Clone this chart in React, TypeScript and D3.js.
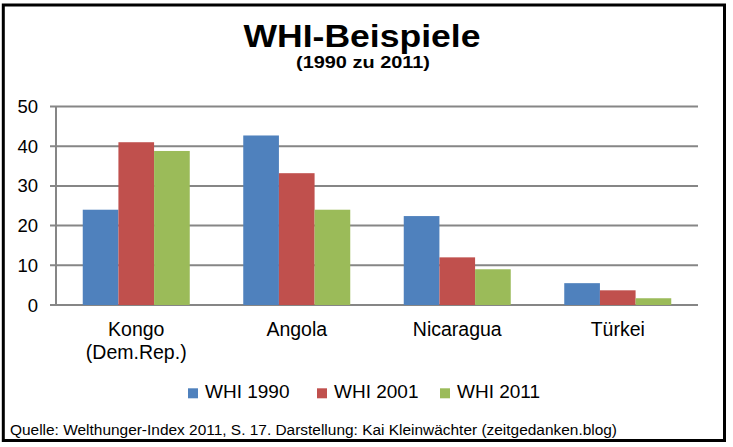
import React from "react";
import * as d3 from "d3";

const categories = ["Kongo\n(Dem.Rep.)", "Angola", "Nicaragua", "Türkei"];
const seriesNames = ["WHI 1990", "WHI 2001", "WHI 2011"];
const whi1990 = [24.0, 42.7, 22.4, 5.5];
const whi2001 = [41.0, 33.2, 12.0, 3.7];
const whi2011 = [38.8, 24.0, 9.0, 1.7];
const yTicks = [0, 10, 20, 30, 40, 50];
const colors = ["#4F81BD", "#C0504D", "#9BBB59"];

const W = 733;
const H = 447;
const FONT = "Liberation Sans, Arial, Helvetica, sans-serif";

export default function App() {
  const series = [whi1990, whi2001, whi2011];
  const left = 56, right = 698, top = 106.5, bottom = 305;
  const x0 = d3.scaleBand<string>().domain(categories).range([left, right]).paddingInner(1 / 3).paddingOuter(1 / 6);
  const x1 = d3.scaleBand<string>().domain(seriesNames).range([0, x0.bandwidth()]);
  const y = d3.scaleLinear().domain([0, 50]).range([bottom, top]);
  const legendX = [188, 317, 440];

  return (
    <svg width={W} height={H} style={{ position: "absolute", left: 0, top: 0, display: "block", fontFamily: FONT }}>
      <rect x={0} y={0} width={W} height={H} fill="#fff" />
      <rect x={3.3} y={5} width={721.2} height={435.5} fill="none" stroke="#000" strokeWidth={3} />
      <text x={362} y={46.5} textAnchor="middle" fontSize={31.5} fontWeight="bold" textLength={237} lengthAdjust="spacingAndGlyphs" style={{ fontFamily: FONT }}>WHI-Beispiele</text>
      <text x={363} y={67.5} textAnchor="middle" fontSize={16.5} fontWeight="bold" textLength={134} lengthAdjust="spacingAndGlyphs" style={{ fontFamily: FONT }}>(1990 zu 2011)</text>

      {yTicks.map((t) => (
        <g key={t}>
          <line x1={50} x2={right} y1={y(t)} y2={y(t)} stroke="#868686" strokeWidth={2} />
          <text x={38} y={y(t) + 6.5} textAnchor="end" fontSize={18.5} style={{ fontFamily: FONT }}>{t}</text>
        </g>
      ))}
      <line x1={left} x2={left} y1={top} y2={bottom} stroke="#868686" strokeWidth={2} />

      {categories.map((c, i) => (
        <g key={c}>
          {series.map((s, j) => (
            <rect key={j} x={(x0(c) as number) + (x1(seriesNames[j]) as number)} y={y(s[i])} width={x1.bandwidth()} height={bottom - y(s[i])} fill={colors[j]} />
          ))}
          {c.split("\n").map((line, k) => (
            <text key={k} x={(x0(c) as number) + x0.bandwidth() / 2} y={336 + k * 22.5} textAnchor="middle" fontSize={19.5} style={{ fontFamily: FONT }}>{line}</text>
          ))}
        </g>
      ))}

      {seriesNames.map((n, j) => (
        <g key={n}>
          <rect x={legendX[j]} y={388.3} width={10} height={10} fill={colors[j]} />
          <text x={legendX[j] + 17} y={398.3} fontSize={19} style={{ fontFamily: FONT }}>{n}</text>
        </g>
      ))}

      <text x={10} y={435} fontSize={15.5} textLength={607} lengthAdjust="spacingAndGlyphs" style={{ fontFamily: FONT }}>Quelle: Welthunger-Index 2011, S. 17. Darstellung: Kai Kleinwächter (zeitgedanken.blog)</text>
    </svg>
  );
}
